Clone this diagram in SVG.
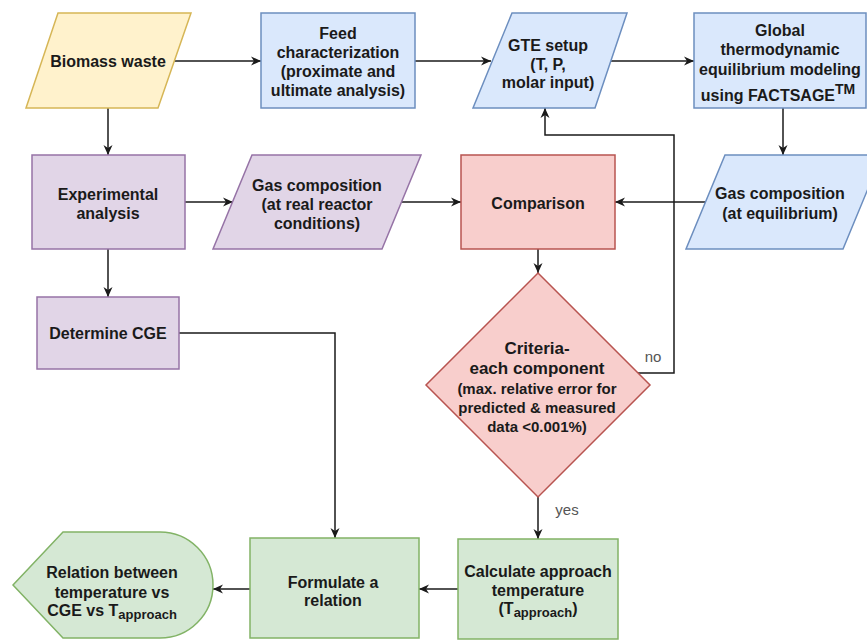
<svg xmlns="http://www.w3.org/2000/svg" width="867" height="641" viewBox="0 0 867 641">
<style>
  .t { font-family: "Liberation Sans", Arial, sans-serif; font-weight: bold; font-size: 16px; fill: #1a1a1a; text-anchor: middle; }
  .s { font-size: 15px; }
  .b { font-size: 17px; }
  .lbl { font-family: "Liberation Sans", Arial, sans-serif; font-size: 15px; fill: #555; text-anchor: middle; }
  .yel { fill: #fff2cc; stroke: #d6b656; stroke-width: 1.5; }
  .blu { fill: #dae8fc; stroke: #6c8ebf; stroke-width: 1.5; }
  .pur { fill: #e1d5e7; stroke: #9673a6; stroke-width: 1.5; }
  .red { fill: #f8cecc; stroke: #b85450; stroke-width: 1.5; }
  .grn { fill: #d5e8d4; stroke: #82b366; stroke-width: 1.5; }
  .c { fill: none; stroke: #1a1a1a; stroke-width: 1.5; marker-end: url(#arr); }
</style>
<defs>
  <marker id="arr" markerWidth="10" markerHeight="10" refX="10" refY="5" orient="auto" markerUnits="userSpaceOnUse">
    <path d="M0,0.5 L10,5 L0,9.5 L3,5 Z" fill="#1a1a1a"/>
  </marker>
</defs>
<rect width="867" height="641" fill="#ffffff"/>

<g id="connectors">
  <path class="c" d="M166,61 L261,61"/>
  <path class="c" d="M415,61 L491,61"/>
  <path class="c" d="M608,61 L694,61"/>
  <path class="c" d="M783,108 L783,155"/>
  <path class="c" d="M707,202 L615,202"/>
  <path class="c" d="M108,108 L108,155"/>
  <path class="c" d="M185,202 L233,202"/>
  <path class="c" d="M401,202 L461,202"/>
  <path class="c" d="M108,249 L108,297"/>
  <path class="c" d="M538,249 L538,273"/>
  <path class="c" d="M638,373 L674,373 L674,135 L545,135 L545,108"/>
  <path class="c" d="M538,497 L538,539"/>
  <path class="c" d="M179,333 L335,333 L335,538"/>
  <path class="c" d="M458,589 L419,589"/>
  <path class="c" d="M250,589 L213,589"/>
  <text class="lbl" x="653" y="362">no</text>
  <text class="lbl" x="567" y="515">yes</text>
</g>

<g id="biomass">
  <polygon class="yel" points="58,13 191,13 158,108 26,108"/>
  <text class="t" x="108" y="67">Biomass waste</text>
</g>

<g id="feed">
  <rect class="blu" x="261" y="13" width="154" height="95"/>
  <text class="t" x="338"><tspan x="338" y="38.5">Feed</tspan><tspan x="338" y="57.5">characterization</tspan><tspan x="338" y="76.5">(proximate and</tspan><tspan x="338" y="95.5">ultimate analysis)</tspan></text>
</g>

<g id="gte">
  <polygon class="blu" points="512,13 627,13 595,108 473,108"/>
  <text class="t" x="548"><tspan x="548" y="51">GTE setup</tspan><tspan x="548" y="70">(T, P,</tspan><tspan x="548" y="88">molar input)</tspan></text>
</g>

<g id="global">
  <rect class="blu" x="694" y="13" width="172" height="95"/>
  <text class="t" x="780"><tspan x="780" y="36">Global</tspan><tspan x="780" y="55">thermodynamic</tspan><tspan x="780" y="75">equilibrium modeling</tspan></text>
  <text class="t" x="778" y="101">using FACTSAGE<tspan dy="-7" font-size="14">TM</tspan></text>
</g>

<g id="gas-eq">
  <polygon class="blu" points="725,155 882,155 843,249 686,249"/>
  <text class="t" x="780"><tspan x="780" y="198.5">Gas composition</tspan><tspan x="780" y="218.5">(at equilibrium)</tspan></text>
</g>

<g id="comparison">
  <rect class="red" x="461" y="155" width="154" height="94"/>
  <text class="t" x="538" y="209">Comparison</text>
</g>

<g id="experimental">
  <rect class="pur" x="32" y="155" width="153" height="94"/>
  <text class="t" x="108"><tspan x="108" y="199.5">Experimental</tspan><tspan x="108" y="218.5">analysis</tspan></text>
</g>

<g id="gas-real">
  <polygon class="pur" points="252,155 421,155 382,249 213,249"/>
  <text class="t" x="317"><tspan x="317" y="190.5">Gas composition</tspan><tspan x="317" y="209.5">(at real reactor</tspan><tspan x="317" y="228.5">conditions)</tspan></text>
</g>

<g id="determine-cge">
  <rect class="pur" x="37" y="297" width="142" height="72"/>
  <text class="t" x="108" y="338.5">Determine CGE</text>
</g>

<g id="criteria">
  <polygon class="red" points="538,273 650,385 538,497 426,385"/>
  <text class="t" x="537"><tspan class="b" x="537" y="354">Criteria-</tspan><tspan class="b" x="537" y="374">each component</tspan><tspan class="s" x="537" y="394">(max. relative error for</tspan><tspan class="s" x="537" y="413">predicted &amp; measured</tspan><tspan class="s" x="537" y="432">data &lt;0.001%)</tspan></text>
</g>

<g id="calculate">
  <rect class="grn" x="458" y="539" width="160" height="100"/>
  <text class="t" x="538"><tspan x="538" y="576.5">Calculate approach</tspan><tspan x="538" y="595.5">temperature</tspan></text>
  <text class="t" x="538" y="614">(T<tspan font-size="13" dy="3">approach</tspan><tspan dy="-3">)</tspan></text>
</g>

<g id="formulate">
  <rect class="grn" x="250" y="538" width="169" height="100"/>
  <text class="t" x="333"><tspan x="333" y="587.5">Formulate a</tspan><tspan x="333" y="605.5">relation</tspan></text>
</g>

<g id="relation">
  <path class="grn" d="M13,585 L63,532 L160,532 A53,53 0 0 1 160,638 L63,638 Z"/>
  <text class="t" x="112"><tspan x="112" y="577.5">Relation between</tspan><tspan x="112" y="597.5">temperature vs</tspan></text>
  <text class="t" x="112" y="616">CGE vs T<tspan font-size="13" dy="3">approach</tspan></text>
</g>
</svg>
